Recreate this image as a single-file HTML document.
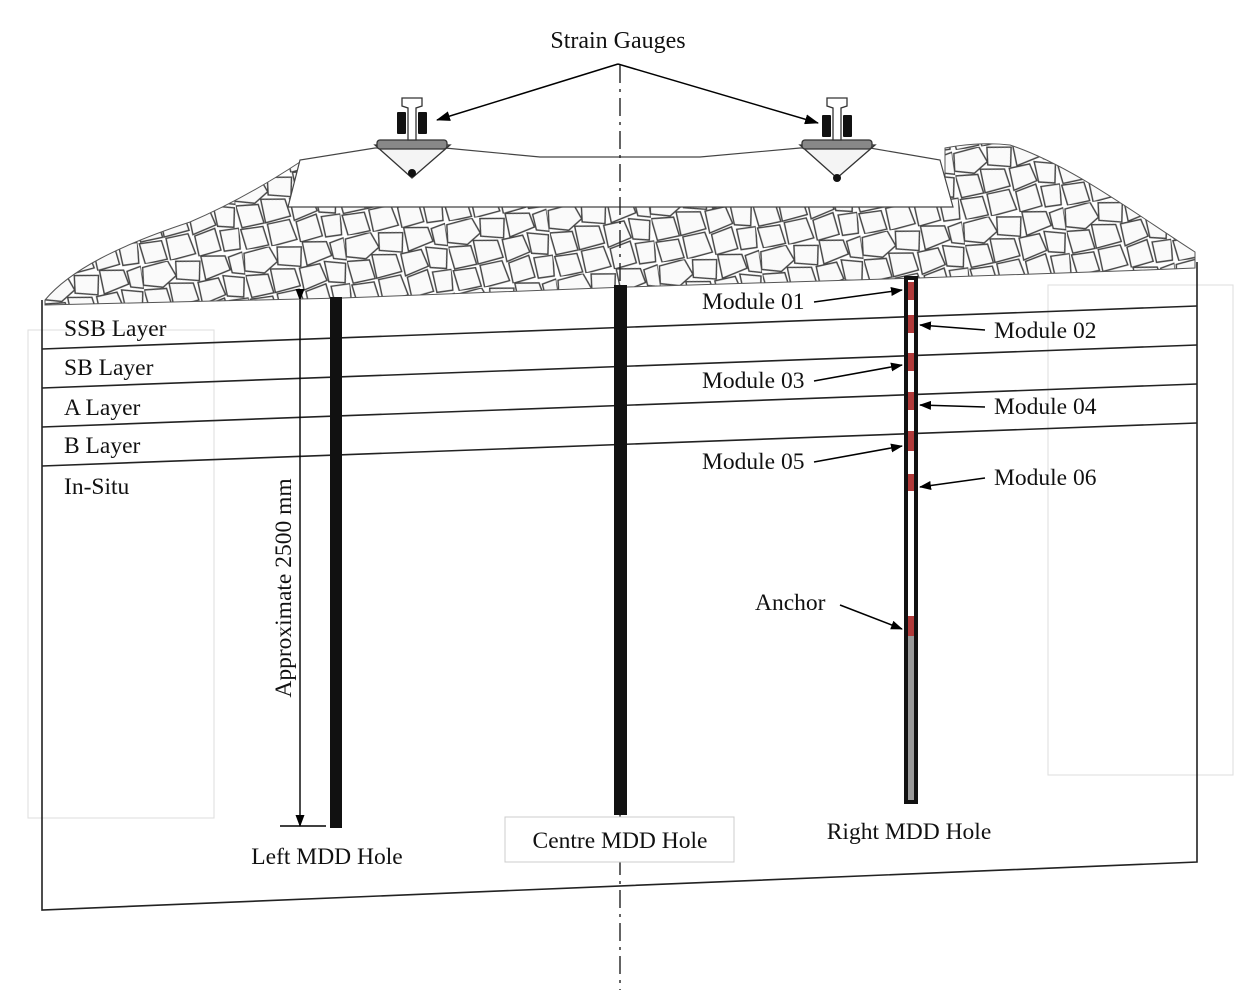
<!DOCTYPE html>
<html><head><meta charset="utf-8"><style>
body{margin:0;background:#fff}
svg{display:block}
text{font-family:"Liberation Serif",serif;fill:#111}
</style></head><body>
<svg width="1243" height="998" viewBox="0 0 1243 998" xmlns="http://www.w3.org/2000/svg">
<defs>
<pattern id="st" width="64" height="44" patternUnits="userSpaceOnUse" patternTransform="scale(1.6) rotate(-8)">
<rect width="64" height="44" fill="#fff"/>
<g fill="#fafafa" stroke="#444" stroke-width="0.9">
<polygon points="1,2 17,0 21,10 12,16 0,13"/>
<polygon points="22,1 37,3 35,15 21,12"/>
<polygon points="38,0 53,2 55,11 39,15"/>
<polygon points="55,3 64,1 64,15 56,13"/>
<polygon points="0,16 14,17 16,29 2,30"/>
<polygon points="16,14 31,16 33,27 17,29"/>
<polygon points="34,16 47,15 50,26 35,30"/>
<polygon points="50,14 63,17 61,29 51,27"/>
<polygon points="1,31 15,31 17,43 3,44"/>
<polygon points="18,30 32,29 35,42 19,44"/>
<polygon points="36,31 49,28 51,42 37,44"/>
<polygon points="52,30 64,30 63,43 53,43"/>
</g>
</pattern>
<marker id="ar" markerWidth="12" markerHeight="9" refX="11" refY="4.5" orient="auto" markerUnits="userSpaceOnUse"><path d="M0,0 L12,4.5 L0,9 z" fill="#000"/></marker>
<marker id="ar2" markerWidth="14" markerHeight="10" refX="13" refY="5" orient="auto" markerUnits="userSpaceOnUse"><path d="M0,0 L14,5 L0,10 z" fill="#000"/></marker>
</defs>

<rect x="28" y="330" width="186" height="488" fill="none" stroke="#ddd"/>
<rect x="1048" y="285" width="185" height="490" fill="none" stroke="#ddd"/>

<!-- ballast -->
<path d="M45,300 C70,270 120,245 190,222 C230,205 265,185 300,162 L300,207 L945,207 L945,148 C960,145 985,142 1010,145 C1070,165 1130,210 1195,252 L1195,268 C1100,272 1000,275 918,278 L627,287 L342,298 L45,305 Z" fill="url(#st)" stroke="#555" stroke-width="1"/>

<!-- sleeper -->
<path d="M288,207 L300,160 L375,148 L445,148 L540,157 L700,157 L800,148 L870,148 L940,160 L953,207 Z" fill="#fff" stroke="#444" stroke-width="1.2"/>

<g stroke="#333" stroke-width="1.3">
<path d="M375,145 L450,145 L412,178 Z" fill="#f4f4f4"/>
<rect x="377" y="140" width="70" height="9" fill="#888" rx="3"/>
<path d="M402,98 L422,98 L422,106 L416,108 L416,140 L408,140 L408,108 L402,106 Z" fill="#fff"/>
<path d="M800,145 L875,145 L837,178 Z" fill="#f4f4f4"/>
<rect x="802" y="140" width="70" height="9" fill="#888" rx="3"/>
<path d="M827,98 L847,98 L847,106 L841,108 L841,140 L833,140 L833,108 L827,106 Z" fill="#fff"/>
</g>
<rect x="397" y="112" width="9" height="22" fill="#111" rx="1"/><rect x="418" y="112" width="9" height="22" fill="#111" rx="1"/>
<rect x="822" y="115" width="9" height="22" fill="#111" rx="1"/><rect x="843" y="115" width="9" height="22" fill="#111" rx="1"/>
<circle cx="412" cy="173" r="4" fill="#111"/><circle cx="837" cy="178" r="4" fill="#111"/>

<text x="618" y="48" font-size="24" text-anchor="middle">Strain Gauges</text>
<line x1="618" y1="64" x2="437" y2="120" stroke="#000" stroke-width="1.5" marker-end="url(#ar2)"/>
<line x1="618" y1="64" x2="818" y2="123" stroke="#000" stroke-width="1.5" marker-end="url(#ar2)"/>

<g stroke="#222" stroke-width="1.6" fill="none">
<polyline points="42,300 42,910 1197,862 1197,262"/>
<line x1="42" y1="349" x2="1197" y2="306"/>
<line x1="42" y1="388" x2="1197" y2="345"/>
<line x1="42" y1="427" x2="1197" y2="384"/>
<line x1="42" y1="466" x2="1197" y2="423"/>
</g>

<line x1="620" y1="65" x2="620" y2="990" stroke="#222" stroke-width="1.4" stroke-dasharray="18,6,3,6"/>

<g font-size="23.5">
<text x="64" y="336">SSB Layer</text>
<text x="64" y="375">SB Layer</text>
<text x="64" y="415">A Layer</text>
<text x="64" y="453">B Layer</text>
<text x="64" y="494">In-Situ</text>
</g>

<rect x="330" y="297" width="12" height="531" fill="#111"/>
<rect x="614" y="285" width="13" height="530" fill="#111"/>
<rect x="904" y="276" width="14" height="528" fill="#111"/>
<rect x="908" y="280" width="6" height="356" fill="#fff"/>
<rect x="908" y="636" width="6" height="164" fill="#999"/>
<g fill="#b03a3a">
<rect x="908" y="282" width="6" height="18"/>
<rect x="908" y="315" width="6" height="18"/>
<rect x="908" y="353" width="6" height="18"/>
<rect x="908" y="392" width="6" height="18"/>
<rect x="908" y="431" width="6" height="20"/>
<rect x="908" y="474" width="6" height="17"/>
<rect x="908" y="616" width="6" height="20"/>
</g>

<line x1="300" y1="300" x2="300" y2="826" stroke="#000" stroke-width="1.4" marker-start="url(#ar)" marker-end="url(#ar)"/>
<line x1="280" y1="826" x2="326" y2="826" stroke="#000" stroke-width="1.4"/>
<text transform="translate(291,588) rotate(-90)" font-size="23.5" text-anchor="middle">Approximate 2500 mm</text>

<g font-size="23.5">
<text x="702" y="309">Module 01</text>
<text x="994" y="338">Module 02</text>
<text x="702" y="388">Module 03</text>
<text x="994" y="414">Module 04</text>
<text x="702" y="469">Module 05</text>
<text x="994" y="485">Module 06</text>
<text x="755" y="610">Anchor</text>
</g>
<g stroke="#000" stroke-width="1.5">
<line x1="814" y1="302" x2="902" y2="290" marker-end="url(#ar)"/>
<line x1="985" y1="330" x2="920" y2="325" marker-end="url(#ar)"/>
<line x1="814" y1="381" x2="902" y2="365" marker-end="url(#ar)"/>
<line x1="985" y1="407" x2="920" y2="405" marker-end="url(#ar)"/>
<line x1="814" y1="462" x2="902" y2="446" marker-end="url(#ar)"/>
<line x1="985" y1="478" x2="920" y2="487" marker-end="url(#ar)"/>
<line x1="840" y1="605" x2="902" y2="629" marker-end="url(#ar)"/>
</g>

<text x="327" y="864" font-size="23.5" text-anchor="middle">Left MDD Hole</text>
<rect x="505" y="817" width="229" height="45" fill="#fff" stroke="#ccc"/>
<text x="620" y="848" font-size="23.5" text-anchor="middle">Centre MDD Hole</text>
<text x="909" y="839" font-size="23.5" text-anchor="middle">Right MDD Hole</text>
</svg>
</body></html>
